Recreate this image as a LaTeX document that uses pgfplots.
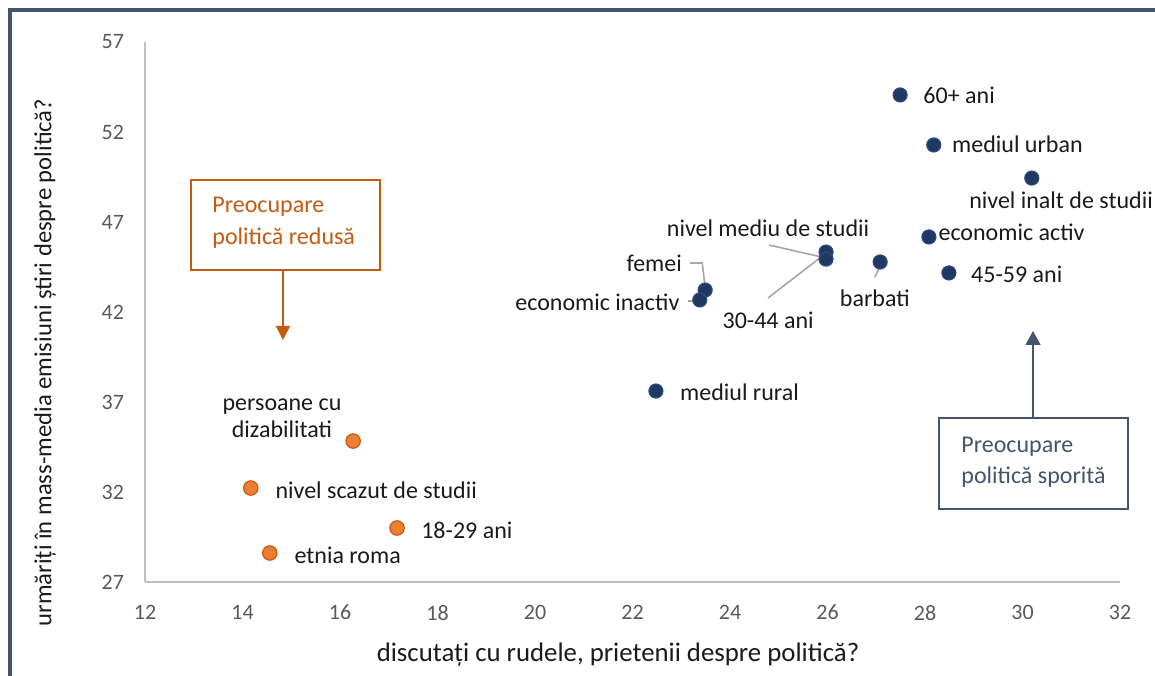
\documentclass[border=0pt]{standalone}
\usepackage{fontspec}
\setmainfont{Carlito}
\usepackage{pgfplots}
\pgfplotsset{compat=1.18}
\usetikzlibrary{arrows.meta}
\definecolor{frame}{HTML}{44546A}
\definecolor{dblue}{HTML}{1F3864}
\definecolor{dblueedge}{HTML}{2E4A7D}
\definecolor{orfill}{HTML}{ED7D31}
\definecolor{oredge}{HTML}{C55A11}
\definecolor{axgray}{HTML}{BFBFBF}
\definecolor{tickgray}{HTML}{595959}
\definecolor{leader}{HTML}{A6A6A6}
\definecolor{txt}{HTML}{1A1A1A}
\tikzset{lbl/.style={font=\fontsize{12}{14}\selectfont, text=txt, inner sep=0pt}}
\begin{document}
\begin{tikzpicture}
\useasboundingbox (0,0) rectangle (577.5pt,337.5pt);
\draw[frame, line width=2pt, line join=miter] (4.75pt,-2pt) -- (4.75pt,332.25pt) -- (580pt,332.25pt);
\begin{axis}[
  at={(72.5pt,46.5pt)}, anchor=south west,
  width=487.5pt, height=270pt, scale only axis,
  xmin=12, xmax=32, ymin=27, ymax=57,
  xtick={12,14,...,32}, ytick={27,32,...,57},
  axis lines=left, axis line style={-, color=axgray, line width=0.8pt},
  major tick length=0pt,
  tick label style={font=\fontsize{11}{13}\selectfont, color=tickgray},
  /pgf/number format/assume math mode=true,
  xticklabel style={yshift=-8pt},
  yticklabel style={xshift=-7pt},
  clip=false,
]
% leader lines
\draw[leader, line width=0.8pt] (axis cs:24.80,45.72) -- (axis cs:25.87,45.06);
\draw[leader, line width=0.8pt] (axis cs:24.78,42.78) -- (axis cs:25.87,45.06);
\draw[leader, line width=0.8pt] (axis cs:23.18,44.72) -- (axis cs:23.43,44.72) -- (axis cs:23.49,43.39);
\draw[leader, line width=0.8pt] (axis cs:23.14,42.61) -- (axis cs:23.32,42.61);
\draw[leader, line width=0.8pt] (axis cs:26.97,43.94) -- (axis cs:27.10,44.67);
% dark blue series
\addplot[only marks, mark=*, mark size=3.5pt, mark options={fill=dblue, draw=dblueedge, line width=0.6pt}] coordinates {
(27.49,54.06) (28.18,51.28) (30.19,49.44) (28.08,46.17) (28.49,44.17)
(27.08,44.78) (25.97,45.33) (25.97,44.94) (23.49,43.22) (23.38,42.67) (22.48,37.61)
};
% orange series
\addplot[only marks, mark=*, mark size=3.6pt, mark options={fill=orfill, draw=oredge, line width=0.6pt}] coordinates {
(16.27,34.83) (14.17,32.22) (17.17,30.00) (14.56,28.61)
};
% labels
\node[lbl, anchor=west] at (axis cs:27.96,54.06) {60+ ani};
\node[lbl, anchor=west] at (axis cs:28.55,51.33) {mediul urban};
\node[lbl, anchor=west] at (axis cs:28.90,48.22) {nivel inalt de studii};
\node[lbl, anchor=west] at (axis cs:28.27,46.44) {economic activ};
\node[lbl, anchor=west] at (axis cs:28.94,44.11) {45-59 ani};
\node[lbl, anchor=center] at (axis cs:26.97,42.78) {barbati};
\node[lbl, anchor=center] at (axis cs:24.78,46.67) {nivel mediu de studii};
\node[lbl, anchor=east] at (axis cs:23.02,44.72) {femei};
\node[lbl, anchor=east] at (axis cs:22.97,42.56) {economic inactiv};
\node[lbl, anchor=west] at (axis cs:23.84,41.56) {30-44 ani};
\node[lbl, anchor=west] at (axis cs:22.97,37.56) {mediul rural};
\node[lbl, anchor=center, align=center, font=\fontsize{12}{13.5}\selectfont] at (axis cs:14.81,36.11) {persoane cu\\dizabilitati};
\node[lbl, anchor=west] at (axis cs:14.67,32.11) {nivel scazut de studii};
\node[lbl, anchor=west] at (axis cs:17.66,29.89) {18-29 ani};
\node[lbl, anchor=west] at (axis cs:15.06,28.50) {etnia roma};
\end{axis}
% axis titles
\node[rotate=90, font=\fontsize{12.3}{14}\selectfont, text=txt, inner sep=0pt] at (22.5pt,156.25pt) {urmăriți în mass-media emisiuni știri despre politică?};
\node[font=\fontsize{13.4}{15}\selectfont, text=txt, inner sep=0pt] at (309pt,10pt) {discutați cu rudele, prietenii despre politică?};
% orange annotation
\draw[oredge, line width=0.8pt] (95.5pt,202.5pt) rectangle (190pt,247.5pt);
\node[anchor=base west, inner sep=0pt, text=oredge, font=\fontsize{12}{14}\selectfont] at (106pt,231pt) {Preocupare};
\node[anchor=base west, inner sep=0pt, text=oredge, font=\fontsize{12}{14}\selectfont] at (106pt,215pt) {politică redusă};
\draw[oredge, line width=0.8pt, -{Triangle[width=7pt,length=7pt]}] (141.5pt,202.5pt) -- (141.5pt,167.5pt);
% blue annotation
\draw[frame, line width=0.8pt] (469.5pt,83pt) rectangle (564pt,128.5pt);
\node[anchor=base west, inner sep=0pt, text=frame, font=\fontsize{12}{14}\selectfont] at (480.5pt,111.5pt) {Preocupare};
\node[anchor=base west, inner sep=0pt, text=frame, font=\fontsize{12}{14}\selectfont] at (480.5pt,96pt) {politică sporită};
\draw[frame, line width=0.8pt, -{Triangle[width=7.5pt,length=7pt]}] (516.5pt,128.5pt) -- (516.5pt,172pt);
\end{tikzpicture}
\end{document}
